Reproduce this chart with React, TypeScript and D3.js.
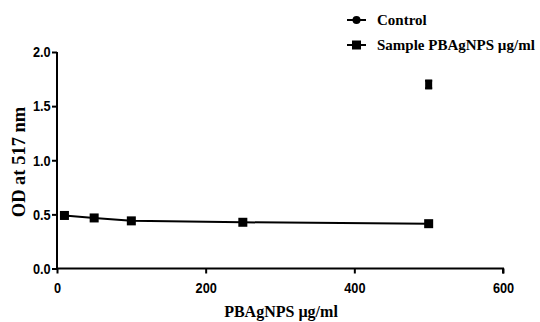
import { useEffect, useRef } from 'react';
import * as d3 from 'd3';

// sample series (PBAgNPS concentration vs OD)
const sampleConc = [10, 50, 100, 250, 500];
const sampleOD = [0.49, 0.467, 0.44, 0.427, 0.414];

// control
const controlConc = [500];
const controlOD = [1.70];
const controlErr = [0.035];

const xTicks = [0, 200, 400, 600];
const yTicks = [0.0, 0.5, 1.0, 1.5, 2.0];
const legendLabels = ['Control', 'Sample PBAgNPS µg/ml'];

const App = () => {
    const svgRef = useRef<SVGSVGElement>(null);

    useEffect(() => {
        const svg = d3.select(svgRef.current);
        svg.selectAll('*').remove();

        const x = d3.scaleLinear().domain([0, 600]).range([57, 503]);
        const y = d3.scaleLinear().domain([0, 2]).range([268.5, 52]);
        const tickFont = '"Liberation Sans", Arial, sans-serif';
        const titleFont = '"Liberation Serif", "Times New Roman", serif';

        // x axis
        const xAxis = svg.append('g')
            .attr('transform', `translate(0,${y(0)})`)
            .call(d3.axisBottom(x).tickValues(xTicks).tickSize(5).tickFormat(d3.format('d')));
        xAxis.select('.domain').attr('stroke-width', 2).attr('d', `M${x(0)},0H${x(600)}V5`);
        xAxis.selectAll('line').attr('stroke-width', 2);
        xAxis.selectAll('text')
            .attr('y', 14)
            .attr('transform', 'scale(0.85,1)')
            .attr('font-family', tickFont)
            .attr('font-weight', 'bold')
            .attr('font-size', 15)
            .attr('fill', '#000');

        // y axis
        const yAxis = svg.append('g')
            .attr('transform', `translate(${x(0)},0)`)
            .call(d3.axisLeft(y).tickValues(yTicks).tickSize(5).tickFormat(d3.format('.1f')));
        yAxis.select('.domain').attr('stroke-width', 2).attr('d', `M0,${y(2)}V${y(0)}`);
        yAxis.selectAll('line').attr('stroke-width', 2);
        yAxis.selectAll('text')
            .attr('x', -7.5)
            .attr('transform', 'scale(0.85,1)')
            .attr('font-family', tickFont)
            .attr('font-weight', 'bold')
            .attr('font-size', 15)
            .attr('fill', '#000');

        // axis titles
        svg.append('text')
            .attr('x', 281)
            .attr('y', 317)
            .attr('text-anchor', 'middle')
            .attr('font-family', titleFont)
            .attr('font-weight', 'bold')
            .attr('font-size', 16)
            .text('PBAgNPS µg/ml');

        svg.append('text')
            .attr('transform', `translate(25,162) rotate(-90)`)
            .attr('text-anchor', 'middle')
            .attr('font-family', titleFont)
            .attr('font-weight', 'bold')
            .attr('font-size', 18.5)
            .text('OD at 517 nm');

        // sample line + squares
        const sample = sampleConc.map((c, i) => ({ c, v: sampleOD[i] }));
        const line = d3.line<{ c: number; v: number }>().x(d => x(d.c)).y(d => y(d.v));
        svg.append('path')
            .datum(sample)
            .attr('fill', 'none')
            .attr('stroke', '#000')
            .attr('stroke-width', 2)
            .attr('d', line);
        svg.append('g').selectAll('rect')
            .data(sample)
            .enter()
            .append('rect')
            .attr('x', d => x(d.c) - 4.5)
            .attr('y', d => y(d.v) - 4.5)
            .attr('width', 9)
            .attr('height', 9)
            .attr('fill', '#000');

        // control with error bars
        const control = controlConc.map((c, i) => ({ c, v: controlOD[i], e: controlErr[i] }));
        const cg = svg.append('g');
        control.forEach(d => {
            cg.append('line')
                .attr('x1', x(d.c)).attr('x2', x(d.c))
                .attr('y1', y(d.v + d.e)).attr('y2', y(d.v - d.e))
                .attr('stroke', '#000').attr('stroke-width', 2);
            [d.v + d.e, d.v - d.e].forEach(v => {
                cg.append('line')
                    .attr('x1', x(d.c) - 3.5).attr('x2', x(d.c) + 3.5)
                    .attr('y1', y(v)).attr('y2', y(v))
                    .attr('stroke', '#000').attr('stroke-width', 2);
            });
            cg.append('rect')
                .attr('x', x(d.c) - 3.5)
                .attr('y', y(d.v + d.e) - 1)
                .attr('width', 7)
                .attr('height', y(d.v - d.e) - y(d.v + d.e) + 2)
                .attr('fill', '#000');
        });

        // legend
        const legend = svg.append('g');
        legendLabels.forEach((label, i) => {
            const ly = 20 + i * 25;
            legend.append('line')
                .attr('x1', 347).attr('x2', 366)
                .attr('y1', ly).attr('y2', ly)
                .attr('stroke', '#000').attr('stroke-width', 2);
            if (i === 0) {
                legend.append('circle').attr('cx', 356.5).attr('cy', ly).attr('r', 4).attr('fill', '#000');
            } else {
                legend.append('rect').attr('x', 352).attr('y', ly - 4.5).attr('width', 9).attr('height', 9).attr('fill', '#000');
            }
            legend.append('text')
                .attr('x', 377)
                .attr('y', ly + 5)
                .attr('font-family', titleFont)
                .attr('font-weight', 'bold')
                .attr('font-size', 15)
                .text(label);
        });
    }, []);

    return (
        <svg ref={svgRef} width={540} height={322} style={{ position: 'absolute', left: 0, top: 0, background: '#fff' }}></svg>
    );
};

export default App;
